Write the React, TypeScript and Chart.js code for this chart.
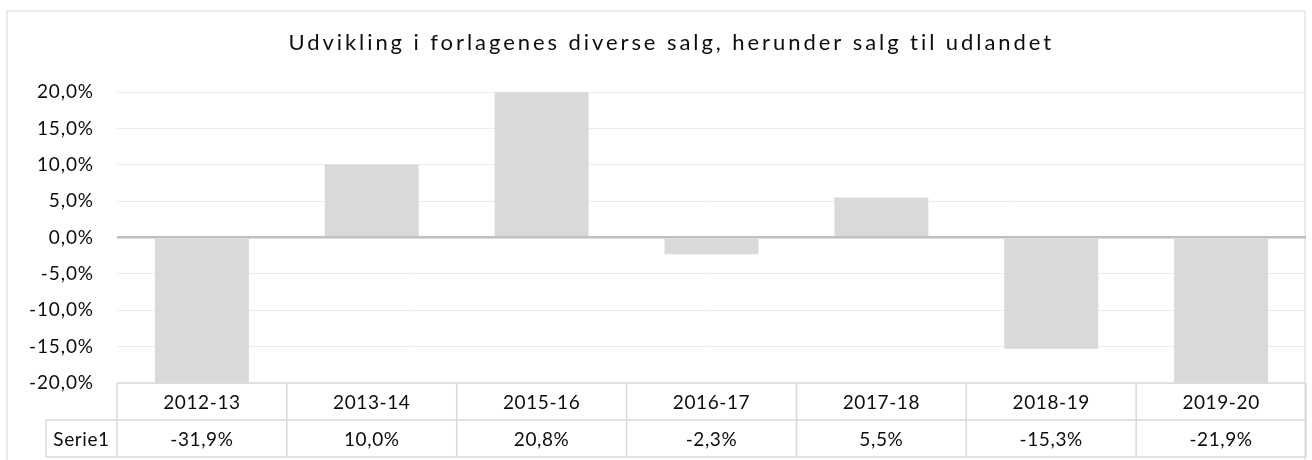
import { useEffect, useRef } from 'react';
import { Chart, registerables } from 'chart.js';

Chart.register(...registerables);

const chartTitle = 'Udvikling i forlagenes diverse salg, herunder salg til udlandet';
const categories = ['2012-13', '2013-14', '2015-16', '2016-17', '2017-18', '2018-19', '2019-20'];
const seriesName = 'Serie1';
const seriesValues = [-31.9, 10.0, 20.8, -2.3, 5.5, -15.3, -21.9];
const yMin = -20;
const yMax = 20;
const yStep = 5;

const FONT = 'Lato, "Open Sans", sans-serif';
const fmt = (v: number) => v.toFixed(1).replace('.', ',') + '%';

const framePlugin = {
  id: 'frameTitleTable',
  beforeDraw(chart: any) {
    const ctx = chart.ctx as CanvasRenderingContext2D;
    ctx.save();
    ctx.fillStyle = '#ffffff';
    ctx.fillRect(0, 0, chart.width, chart.height);
    ctx.strokeStyle = '#ecece0';
    ctx.lineWidth = 2;
    ctx.strokeRect(7, 11, 1298, 470);
    // title
    ctx.font = `22px ${FONT}`;
    ctx.fillStyle = '#0d0d0d';
    ctx.textAlign = 'left';
    ctx.textBaseline = 'alphabetic';
    (ctx as any).letterSpacing = '0px';
    const target = 763;
    const w0 = ctx.measureText(chartTitle).width;
    const ls = (target - w0) / (chartTitle.length - 1);
    (ctx as any).letterSpacing = `${ls}px`;
    ctx.fillText(chartTitle, 670 - target / 2, 50);
    ctx.restore();
    (ctx as any).letterSpacing = '0.9px';
  },
  afterDraw(chart: any) {
    const ctx = chart.ctx as CanvasRenderingContext2D;
    const area = chart.chartArea;
    const xs = chart.scales.x;
    const n = categories.length;
    const top = area.bottom;
    const mid = top + 37;
    const bot = mid + 37;
    const labelLeft = 46;
    ctx.save();
    (ctx as any).letterSpacing = '0.6px';
    ctx.strokeStyle = '#d9d9d9';
    ctx.lineWidth = 1.5;
    ctx.beginPath();
    ctx.moveTo(area.left, top);
    ctx.lineTo(area.right, top);
    ctx.moveTo(labelLeft, mid);
    ctx.lineTo(area.right, mid);
    ctx.moveTo(labelLeft, bot);
    ctx.lineTo(area.right, bot);
    ctx.moveTo(labelLeft, mid);
    ctx.lineTo(labelLeft, bot);
    for (let i = 0; i <= n; i++) {
      const x = xs.getPixelForValue(i - 0.5);
      ctx.moveTo(x, top);
      ctx.lineTo(x, bot);
    }
    ctx.stroke();
    ctx.font = `19px ${FONT}`;
    ctx.fillStyle = '#0d0d0d';
    ctx.textAlign = 'center';
    ctx.textBaseline = 'middle';
    for (let i = 0; i < n; i++) {
      const x = xs.getPixelForValue(i);
      ctx.fillText(categories[i], x, (top + mid) / 2 + 1);
      ctx.fillText(fmt(seriesValues[i]), x, (mid + bot) / 2 + 1);
    }
    ctx.fillText(seriesName, (labelLeft + area.left) / 2, (mid + bot) / 2 + 1);
    ctx.restore();
    (ctx as any).letterSpacing = '0px';
  },
};

export default function App() {
  const ref = useRef<HTMLCanvasElement | null>(null);
  useEffect(() => {
    if (!ref.current) return;
    const chart = new Chart(ref.current, {
      type: 'bar',
      data: {
        labels: categories,
        datasets: [
          {
            label: seriesName,
            data: seriesValues,
            backgroundColor: '#d9d9d9',
            borderWidth: 0,
            categoryPercentage: 0.553,
            barPercentage: 1,
          },
        ],
      },
      options: {
        animation: false,
        responsive: true,
        maintainAspectRatio: false,
        layout: { padding: { top: 92, bottom: 77, left: 0, right: 6 } },
        plugins: {
          legend: { display: false },
          tooltip: { enabled: false },
          title: { display: false },
        },
        scales: {
          x: { display: false },
          y: {
            min: yMin,
            max: yMax,
            afterFit: (scale: any) => {
              scale.width = 117;
            },
            ticks: {
              stepSize: yStep,
              padding: 23,
              color: '#0d0d0d',
              font: { family: FONT, size: 19 },
              callback: (v: any) => fmt(Number(v)),
            },
            border: { display: false },
            grid: {
              drawTicks: false,
              color: (c: any) => (c.tick && c.tick.value === 0 ? '#bfbfbf' : '#ececec'),
              lineWidth: (c: any) => (c.tick && c.tick.value === 0 ? 2.5 : 1),
            },
          },
        },
      },
      plugins: [framePlugin],
    });
    return () => chart.destroy();
  }, []);
  return (
    <div style={{ position: 'absolute', left: 0, top: 0, width: 1312, height: 460 }}>
      <canvas ref={ref} />
    </div>
  );
}
